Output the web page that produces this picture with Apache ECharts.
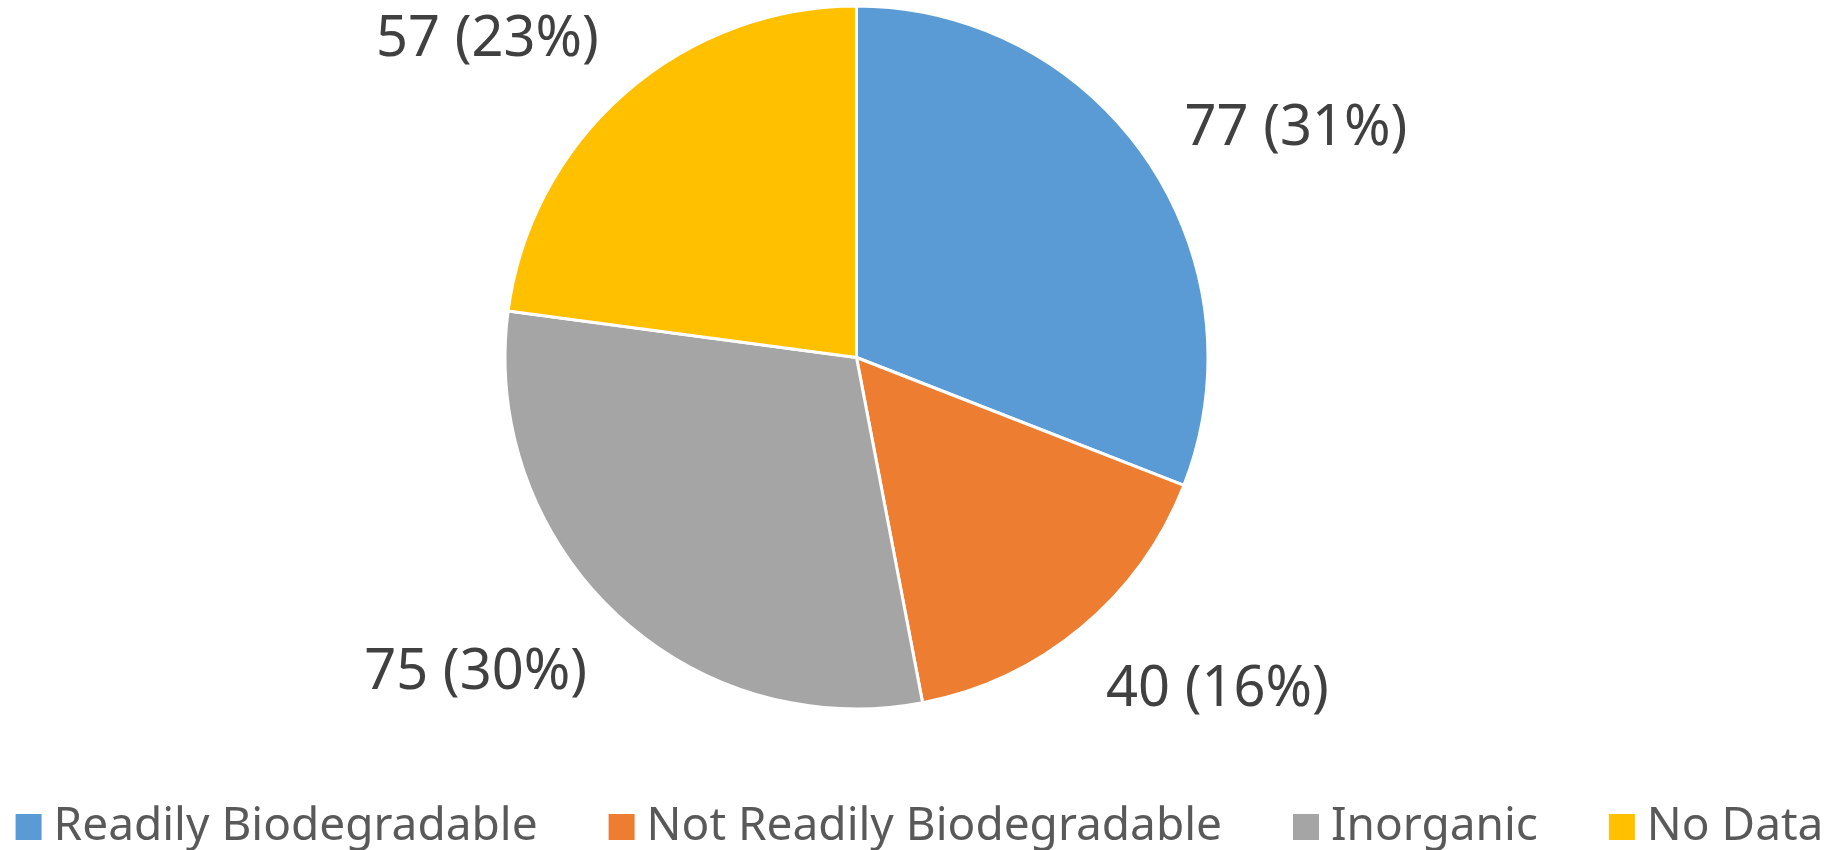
<!DOCTYPE html>
<html>
<head>
<meta charset="utf-8">
<title>Biodegradability</title>
<script src="https://cdn.jsdelivr.net/npm/echarts@6/dist/echarts.min.js"></script>
<style>
    html, body {margin: 0; padding: 0; background: #fff;}
    #chart {width: 1837px; height: 850px;}
</style>
</head>
<body>
<div id="chart"></div>
<script>
// 图表数据
var categories = ["Readily Biodegradable", "Not Readily Biodegradable", "Inorganic", "No Data"];
var counts = [77, 40, 75, 57];
var colors = ["#5B9BD5", "#ED7D31", "#A5A5A5", "#FFC000"];

var pieData = [];
for (var i = 0; i < categories.length; i++) {
    pieData.push({name: categories[i], value: counts[i]});
}

var myChart = echarts.init(document.getElementById("chart"), null, {renderer: "canvas"});
myChart.setOption({
    animation: false,
    color: colors,
    textStyle: {fontFamily: "Noto Sans"},
    //图例配置
    legend: {
        data: categories,
        left: "center",
        top: 800,
        padding: 0,
        itemGap: 69,
        itemWidth: 28,
        itemHeight: 28,
        icon: "rect",
        textStyle: {
            fontSize: 46,
            lineHeight: 54,
            color: "#595959",
            padding: [0, 0, 0, 6]
        }
    },
    series: [{
        type: "pie",
        center: [856.5, 357.5],
        radius: 351.5,
        startAngle: 90,
        clockwise: true,
        percentPrecision: 0,
        itemStyle: {borderColor: "#fff", borderWidth: 3},
        label: {
            show: true,
            position: "outside",
            formatter: "{c} ({d}%)",
            fontSize: 56,
            color: "#404040",
            distanceToLabelLine: -20
        },
        labelLine: {show: false, length: 70, length2: 0},
        //右侧和下方的标签略往下移
        labelLayout: function (params) {
            if (params.labelRect.y > 357 || params.labelRect.x > 856) {
                return {dy: 9};
            }
            return {};
        },
        emphasis: {disabled: true},
        data: pieData
    }]
});
</script>
</body>
</html>
